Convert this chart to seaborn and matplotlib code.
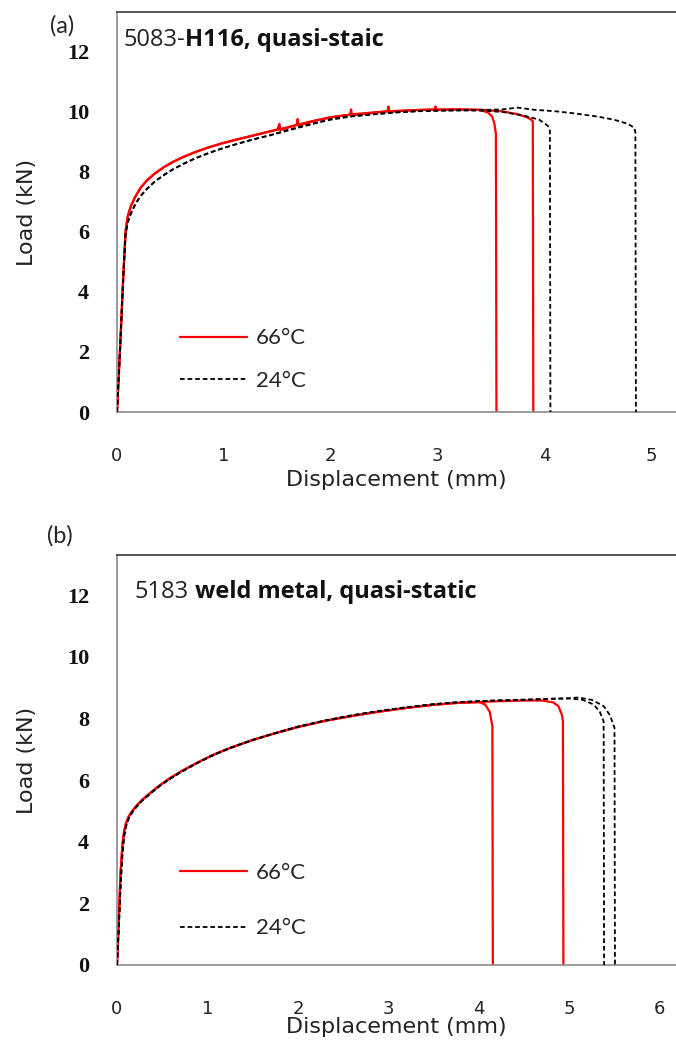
import matplotlib
matplotlib.use("Agg")
import matplotlib.pyplot as plt
from matplotlib.lines import Line2D
import seaborn as sns
import pandas as pd

# ---------------- data ----------------
temps = ["66°C", "24°C"]

# Panel (a): 5083-H116, quasi-static
a_base_x = [0, 0.03, 0.06, 0.08, 0.10, 0.13, 0.17, 0.22, 0.28, 0.35, 0.43, 0.52, 0.62, 0.73, 0.85, 0.98, 1.12, 1.27, 1.43]
a66_base_y = [0, 2.2, 4.6, 6.0, 6.5, 6.85, 7.15, 7.45, 7.7, 7.92, 8.12, 8.31, 8.48, 8.64, 8.79, 8.93, 9.06, 9.19, 9.33]
a24_base_y = [0, 2.2, 4.6, 5.9, 6.3, 6.6, 6.9, 7.18, 7.42, 7.65, 7.86, 8.06, 8.25, 8.43, 8.6, 8.76, 8.91, 9.06, 9.2]

# 66°C (serrated flow) specimen 1 and 2
a66_s1_x = [1.5, 1.52, 1.53, 1.68, 1.69, 1.70, 1.85, 2.0, 2.18, 2.19, 2.2, 2.4, 2.53, 2.54, 2.55, 2.75, 2.97, 2.98, 2.99, 3.2, 3.4, 3.47, 3.51, 3.53, 3.545, 3.55]
a66_s1_y = [9.39, 9.58, 9.37, 9.55, 9.74, 9.52, 9.68, 9.8, 9.88, 10.06, 9.86, 9.95, 10.0, 10.16, 9.98, 10.03, 10.06, 10.16, 10.04, 10.06, 10.04, 9.96, 9.82, 9.6, 9.25, 0]
a66_s2_x = [1.6, 1.8, 2.0, 2.2, 2.4, 2.6, 2.8, 3.0, 3.2, 3.4, 3.6, 3.75, 3.85, 3.89, 3.895]
a66_s2_y = [9.47, 9.65, 9.8, 9.9, 9.96, 10.01, 10.04, 10.06, 10.06, 10.05, 10.0, 9.9, 9.78, 9.68, 0]
# 24°C specimen 1 and 2
a24_s1_x = [1.6, 1.8, 2.0, 2.2, 2.4, 2.6, 2.8, 3.0, 3.2, 3.4, 3.6, 3.8, 3.95, 4.03, 4.05, 4.055]
a24_s1_y = [9.38, 9.56, 9.72, 9.83, 9.9, 9.96, 10.0, 10.02, 10.03, 10.02, 9.98, 9.86, 9.72, 9.52, 9.35, 0]
a24_s2_x = [1.6, 1.8, 2.0, 2.2, 2.4, 2.6, 2.8, 3.0, 3.2, 3.4, 3.6, 3.75, 3.9, 4.1, 4.3, 4.5, 4.65, 4.78, 4.84, 4.85, 4.855]
a24_s2_y = [9.36, 9.55, 9.74, 9.84, 9.9, 9.96, 10.0, 10.02, 10.03, 10.04, 10.06, 10.12, 10.05, 10.0, 9.92, 9.82, 9.72, 9.58, 9.45, 9.3, 0]

# Panel (b): 5183 weld metal, quasi-static
b_base_x = [0, 0.02, 0.04, 0.06, 0.08, 0.10, 0.13, 0.17, 0.22, 0.28, 0.36, 0.46, 0.58, 0.72, 0.88, 1.05, 1.25, 1.5, 1.75, 2.0, 2.3, 2.6, 2.9, 3.2, 3.5, 3.75, 4.0]
b66_base_y = [0, 1.5, 3.0, 3.9, 4.35, 4.6, 4.82, 5.0, 5.18, 5.36, 5.56, 5.8, 6.05, 6.3, 6.55, 6.8, 7.04, 7.3, 7.52, 7.72, 7.92, 8.08, 8.22, 8.34, 8.44, 8.5, 8.53]
b24_base_y = [0, 1.2, 2.6, 3.6, 4.2, 4.5, 4.76, 4.96, 5.15, 5.34, 5.54, 5.78, 6.03, 6.28, 6.54, 6.79, 7.04, 7.3, 7.52, 7.73, 7.93, 8.1, 8.24, 8.36, 8.46, 8.52, 8.56]

b66_s1_x = [4.07, 4.12, 4.15, 4.155]
b66_s1_y = [8.45, 8.22, 7.75, 0]
b66_s2_x = [4.25, 4.5, 4.7, 4.82, 4.88, 4.92, 4.93, 4.935]
b66_s2_y = [8.56, 8.58, 8.58, 8.52, 8.4, 8.1, 7.9, 0]
b24_s1_x = [4.25, 4.5, 4.8, 5.0, 5.15, 5.27, 5.34, 5.38, 5.385]
b24_s1_y = [8.59, 8.61, 8.63, 8.65, 8.6, 8.45, 8.2, 7.9, 0]
b24_s2_x = [4.25, 4.5, 4.8, 5.0, 5.1, 5.25, 5.38, 5.45, 5.5, 5.505]
b24_s2_y = [8.58, 8.6, 8.64, 8.65, 8.68, 8.6, 8.4, 8.1, 7.7, 0]

x_ticks_a = [0, 1, 2, 3, 4, 5]
x_ticks_b = [0, 1, 2, 3, 4, 5, 6]
y_ticks = [0, 2, 4, 6, 8, 10, 12]
title_a = ("5083-", "H116, quasi-staic")
title_b = ("5183", " weld metal, quasi-static")


def frame(parts):
    rows = []
    for temp, spec, xs, ys in parts:
        for x, y in zip(xs, ys):
            rows.append({"disp": x, "load": y, "temp": temp, "spec": spec})
    return pd.DataFrame(rows)


df_a = frame([
    ("66°C", "r1", a_base_x + a66_s1_x, a66_base_y + a66_s1_y),
    ("66°C", "r2", a_base_x + a66_s2_x, a66_base_y + a66_s2_y),
    ("24°C", "k1", a_base_x + a24_s1_x, a24_base_y + a24_s1_y),
    ("24°C", "k2", a_base_x + a24_s2_x, a24_base_y + a24_s2_y),
])
df_b = frame([
    ("66°C", "r1", b_base_x + b66_s1_x, b66_base_y + b66_s1_y),
    ("66°C", "r2", b_base_x + b66_s2_x, b66_base_y + b66_s2_y),
    ("24°C", "k1", b_base_x + b24_s1_x, b24_base_y + b24_s1_y),
    ("24°C", "k2", b_base_x + b24_s2_x, b24_base_y + b24_s2_y),
])

# ---------------- style ----------------
sns.set_style("white")
plt.rcParams["font.family"] = ["DejaVu Sans"]

RED = "#ff0000"
BLACK = "#000000"
SPINE = "#8c8c8c"
palette = {"66°C": RED, "24°C": BLACK}
dashes = {"66°C": "", "24°C": (2.6, 1.6)}

fig = plt.figure(figsize=(6.76, 10.4), dpi=100)
W, H = 676.0, 1040.0
ax_a = fig.add_axes([117 / W, (H - 412) / H, 559 / W, 400 / H])
ax_b = fig.add_axes([117 / W, (H - 965) / H, 559 / W, 410 / H])

for ax, df, xmax, xt, title, ty, tx, leg_y, leg_sp in [
    (ax_a, df_a, 5.23, x_ticks_a, title_a, 0.93, 0.011, 0.131, 1.0),
    (ax_b, df_b, 6.18, x_ticks_b, title_b, 0.91, 0.032, 0.157, 1.6),
]:
    sns.lineplot(data=df, x="disp", y="load", hue="temp", style="temp",
                 units="spec", estimator=None, sort=False,
                 hue_order=temps, style_order=temps,
                 palette=palette, dashes=dashes, legend=False, ax=ax)
    for ln in ax.lines:
        c = matplotlib.colors.to_hex(ln.get_color())
        if c == RED:
            ln.set_linewidth(1.6)
            ln.set_zorder(2)
        else:
            ln.set_linewidth(1.3)
            ln.set_zorder(3)

    ax.set_xlim(0, xmax)
    ax.set_ylim(0, 13.3)
    ax.set_xticks(xt)
    ax.set_yticks(y_ticks)
    ax.set_xticklabels([str(v) for v in xt], fontsize=13, color="#222222",
                       family="DejaVu Sans")
    ax.set_yticklabels([str(v) for v in y_ticks], fontsize=16, fontweight="bold",
                       family="Liberation Serif", color="#111111")
    ax.tick_params(axis="x", direction="out", length=8, width=1, color=SPINE, pad=17)
    ax.tick_params(axis="y", direction="out", length=8, width=1, color=SPINE, pad=12)

    for s in ["left", "bottom"]:
        ax.spines[s].set_color(SPINE)
        ax.spines[s].set_linewidth(1.2)
    ax.spines["top"].set_color("#3a3a3a")
    ax.spines["top"].set_linewidth(1.2)
    ax.spines["right"].set_visible(False)

    ax.set_xlabel("Displacement (mm)", fontsize=16, color="#222222")
    ax.set_ylabel("Load (kN)", fontsize=16, color="#222222")
    ax.yaxis.set_label_coords(-0.143, 0.5)

    t1 = ax.text(tx, ty, title[0], transform=ax.transAxes, fontsize=17,
                 family="Open Sans", va="center", ha="left", color="#222222")
    ax.annotate(title[1], xy=(1, 0), xycoords=t1, va="bottom", ha="left",
                fontsize=17, family="Open Sans", fontweight="bold", color="#111111")

    handles = [Line2D([], [], color=RED, lw=1.6),
               Line2D([], [], color=BLACK, lw=1.3, dashes=(2.6, 1.6))]
    ax.legend(handles, temps, loc="center left", bbox_to_anchor=(0.113, leg_y),
              frameon=False, handlelength=3.0, handletextpad=0.4,
              labelspacing=leg_sp, borderpad=0, borderaxespad=0,
              prop={"family": "Lato", "size": 16})

ax_a.xaxis.set_label_coords(0.5, -0.145)
ax_b.xaxis.set_label_coords(0.5, -0.127)

fig.text(50 / W, 1 - 26 / H, "(a)", fontsize=17, family="Lato", va="center", ha="left")
fig.text(47 / W, 1 - 536 / H, "(b)", fontsize=17, family="Lato", va="center", ha="left")

fig.savefig("out.png", dpi=100)
